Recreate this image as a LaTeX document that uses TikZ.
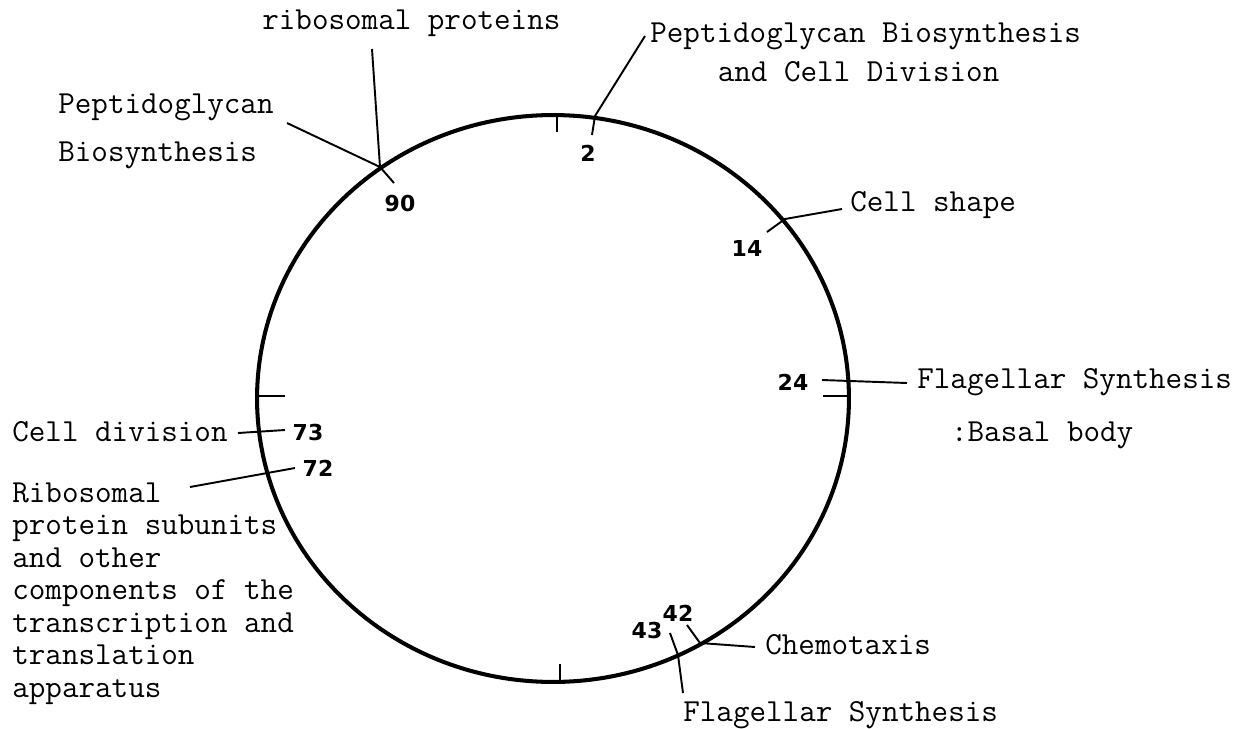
\documentclass[tikz,border=0pt]{standalone}
\usepackage{fontspec}
\newfontfamily\numfont{DejaVu Sans}
\usetikzlibrary{positioning}

\begin{document}
\begin{tikzpicture}[
  x=0.02cm, y=-0.02cm,
  lbl/.style={inner sep=0pt, anchor=west, align=left,
              font=\ttfamily\fontsize{18.3}{18.5}\selectfont},
  num/.style={inner sep=0pt, font=\numfont\bfseries\fontsize{12.5}{13}\selectfont},
  lead/.style={line width=1.1pt},
  tick/.style={line width=1.1pt},
  ring/.style={line width=2.3pt}
]
\useasboundingbox (0,0) rectangle (1249,728);

% genome circle and quarter ticks
\draw[ring] (553,398.5) ellipse [x radius=5.92cm, y radius=5.67cm];
\draw[tick] (557,115) -- (557,132);
\draw[tick] (560,682) -- (560,664);
\draw[tick] (258,396) -- (285,396);
\draw[tick] (849,396) -- (823,396);

% labels
\node[lbl] (ribo) at (262,23) {ribosomal proteins};
\node[lbl, font=\ttfamily\fontsize{18.3}{27.3}\selectfont] (pepL) at (58,131)
  {Peptidoglycan\\Biosynthesis};
\node[lbl, font=\ttfamily\fontsize{18.3}{22.2}\selectfont] (pepR) at (650,52.5)
  {Peptidoglycan Biosynthesis\\\hspace*{2.1em}and Cell Division};
\node[lbl] (shape) at (850,205) {Cell shape};
\node[lbl, font=\ttfamily\fontsize{18.3}{30.2}\selectfont] (flagR) at (917,408.5)
  {Flagellar Synthesis\\\hspace*{1.05em}:Basal body};
\node[lbl] (div) at (12,432) {Cell division};
\node[lbl] (riboS) at (12,593.5) {Ribosomal\\protein subunits\\and other\\components of the\\transcription and\\translation\\apparatus};
\node[lbl] (chemo) at (765,645) {Chemotaxis};
\node[lbl] (flagB) at (683,715) {Flagellar Synthesis};

% map positions
\node[num] (n2)  at (588,153) {2};
\node[num] (n90) at (400,203) {90};
\node[num] (n14) at (747,248) {14};
\node[num] (n24) at (793,382) {24};
\node[num] (n73) at (308,432) {73};
\node[num] (n72) at (318,468) {72};
\node[num] (n42) at (678,613) {42};
\node[num] (n43) at (647,630) {43};

% leader end points
\coordinate (ribo-a) at (372,49);
\coordinate (p90)    at (380,167);
\coordinate (pepL-a) at (287,123);
\coordinate (p90-b)  at (394,183);
\coordinate (pepR-a) at (645,36);
\coordinate (p2)     at (595,116);
\coordinate (p2-b)   at (592,135);
\coordinate (shape-a) at (842,209);
\coordinate (p14)    at (785,219);
\coordinate (p14-b)  at (767,232);
\coordinate (p24-a)  at (822,380);
\coordinate (flagR-a) at (907,383);
\coordinate (div-a)  at (238,433);
\coordinate (p73)    at (285,430);
\coordinate (riboS-a) at (190,487);
\coordinate (p72)    at (295,468);
\coordinate (p42-a)  at (687,625);
\coordinate (p42)    at (700,643);
\coordinate (chemo-a) at (755,647);
\coordinate (p43-a)  at (670,633);
\coordinate (p43)    at (678,655);
\coordinate (flagB-a) at (683,693);

% leaders
\draw[lead] (ribo-a) -- (p90);
\draw[lead] (pepL-a) -- (p90) -- (p90-b);
\draw[lead] (pepR-a) -- (p2) -- (p2-b);
\draw[lead] (shape-a) -- (p14) -- (p14-b);
\draw[lead] (p24-a) -- (flagR-a);
\draw[lead] (div-a) -- (p73);
\draw[lead] (riboS-a) -- (p72);
\draw[lead] (p42-a) -- (p42) -- (chemo-a);
\draw[lead] (p43-a) -- (p43) -- (flagB-a);
\end{tikzpicture}
\end{document}
